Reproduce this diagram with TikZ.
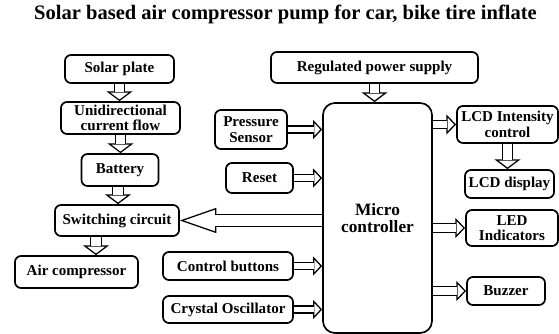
\documentclass[tikz,border=0pt]{standalone}
\usepackage{fontspec}
\setmainfont{Liberation Serif}
\usetikzlibrary{arrows.meta}

\begin{document}
\begin{tikzpicture}[x=0.025cm, y=-0.025cm]
        \tikzset{
            block/.style={draw, line width=1.2pt, rounded corners=0.15cm, align=center, inner sep=1pt, font=\fontsize{10.7}{11}\selectfont\bfseries},
            % hollow arrow: shaft gap, head length, head width
            hollow/.style n args={3}{line width=0.9pt, -{Triangle[open, fill=white, length=#2, width=#3]},
                postaction={draw, -, double, double distance=#1, shorten >=#2-0.8pt}},
            bigarrow/.style={hollow={6.7pt}{7pt}{18.5pt}},
            inarrow/.style={hollow={4.2pt}{6.4pt}{13.5pt}},
            outarrow/.style={hollow={5.3pt}{7pt}{14.2pt}},
            backarrow/.style={hollow={7.2pt}{26pt}{17.8pt}}
        }
        \useasboundingbox (0,0) rectangle (559,334);

        \node[font=\fontsize{14.6}{16}\selectfont\bfseries] (title) at (285.5,14) {Solar based air compressor pump for car, bike tire inflate};

        % left column
        \node[block, minimum width=2.725cm, minimum height=0.7cm] (solar) at (119.5,69) {Solar plate};
        \node[block, minimum width=2.975cm, minimum height=0.8cm] (unidir) at (120.5,118) {Unidirectional\\current flow};
        \node[block, minimum width=1.925cm, minimum height=0.8cm] (battery) at (120,170) {Battery};
        \node[block, minimum width=3.1cm, minimum height=0.775cm] (switch) at (117,220.5) {Switching circuit};
        \node[block, minimum width=3.075cm, minimum height=0.8cm] (aircomp) at (76.5,272) {Air compressor};

        % inputs
        \node[block, minimum width=5.175cm, minimum height=0.775cm] (power) at (374.5,67.5) {Regulated power supply};
        \node[block, minimum width=1.8cm, minimum height=0.975cm] (sensor) at (251,129.5) {Pressure\\Sensor};
        \node[block, minimum width=1.675cm, minimum height=0.75cm] (reset) at (259.5,178) {Reset};
        \node[block, minimum width=3.25cm, minimum height=0.7cm] (buttons) at (228,266) {Control buttons};
        \node[block, minimum width=3.25cm, minimum height=0.675cm] (crystal) at (228,309.5) {Crystal Oscillator};

        \node[block, rounded corners=0.3cm, minimum width=2.725cm, minimum height=5.75cm, font=\fontsize{12.3}{12.5}\selectfont\bfseries] (micro) at (377.5,218) {Micro\\controller};

        % outputs
        \node[block, minimum width=2.525cm, minimum height=0.925cm] (lcdint) at (507.5,124.5) {LCD Intensity\\control};
        \node[block, minimum width=2.225cm, minimum height=0.7cm] (lcd) at (509.5,184) {LCD display};
        \node[block, minimum width=2.3cm, minimum height=0.9cm] (led) at (512,228) {LED\\Indicators};
        \node[block, minimum width=1.95cm, minimum height=0.7cm] (buzzer) at (506,291) {Buzzer};

        \draw[bigarrow] (solar.south) -- (solar.south |- unidir.north);
        \draw[bigarrow] (unidir.south) -- (unidir.south |- battery.north);
        \draw[bigarrow] ([xshift=-0.05cm]battery.south) -- ([xshift=-0.05cm]battery.south |- switch.north);
        \draw[bigarrow] ([xshift=-0.525cm]switch.south) -- ([xshift=-0.525cm]switch.south |- aircomp.north);

        \draw[bigarrow] (power.south) -- (power.south |- micro.north);
        \draw[inarrow] (sensor.east) -- (sensor.east -| micro.west);
        \draw[inarrow] (reset.east) -- (reset.east -| micro.west);
        \draw[inarrow] (buttons.east) -- (buttons.east -| micro.west);
        \draw[inarrow] (crystal.east) -- (crystal.east -| micro.west);
        \draw[backarrow] (micro.west |- switch.east) -- (switch.east);

        \draw[outarrow] (micro.east |- lcdint.west) -- (lcdint.west);
        \draw[bigarrow] (lcdint.south) -- (lcdint.south |- lcd.north);
        \draw[outarrow] (micro.east |- led.west) -- (led.west);
        \draw[outarrow] (micro.east |- buzzer.west) -- (buzzer.west);
    \end{tikzpicture}
\end{document}
